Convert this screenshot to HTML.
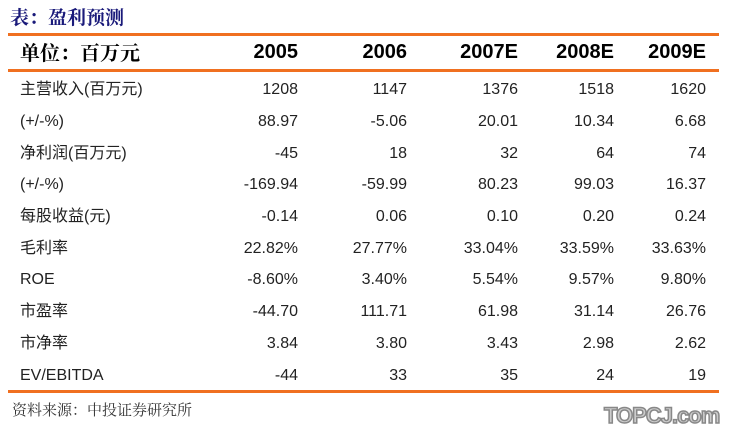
<!DOCTYPE html>
<html><head><meta charset="utf-8"><style>
body{margin:0;width:729px;height:439px;background:#fff;position:relative;overflow:hidden;font-family:"Liberation Sans","Noto Sans CJK SC",sans-serif;}
.t{position:absolute;left:10px;top:3px;font-size:19px;line-height:28px;color:#1a1a7a;font-family:"Noto Serif CJK SC","Noto Sans CJK SC",serif;font-weight:bold;}
.line{position:absolute;left:8px;width:711px;height:3px;background:#f07020;}
.r{position:absolute;left:0;width:729px;height:30px;line-height:30px;font-size:16px;color:#222;}
.r span{position:absolute;top:0;white-space:nowrap;line-height:30px;}
.r .l{left:20px;}
.h{font-size:20px;font-weight:bold;color:#000;}
.c1{right:431px}.c2{right:322px}.c3{right:211px}.c4{right:115px}.c5{right:23px}
.f{position:absolute;left:12px;top:396px;line-height:28px;font-size:15px;color:#333;font-family:"Noto Serif CJK SC",serif;}
.w{position:absolute;left:604px;top:403px;font-size:22px;font-weight:bold;color:#ccc;-webkit-text-stroke:1.5px #888;letter-spacing:-1px;font-family:"Liberation Sans",sans-serif;}
</style></head><body>
<div class="t">表：盈利预测</div>
<div class="line" style="top:33px"></div>
<div class="r h" style="top:37px"><span class="l" style="font-family:'Noto Serif CJK SC',serif">单位：百万元</span><span class="c1">2005</span><span class="c2">2006</span><span class="c3">2007E</span><span class="c4">2008E</span><span class="c5">2009E</span></div>
<div class="line" style="top:69px"></div>
<div class="r" style="top:75px"><span class="l">主营收入(百万元)</span><span class="c1">1208</span><span class="c2">1147</span><span class="c3">1376</span><span class="c4">1518</span><span class="c5">1620</span></div>
<div class="r" style="top:107px"><span class="l">(+/-%)</span><span class="c1">88.97</span><span class="c2">-5.06</span><span class="c3">20.01</span><span class="c4">10.34</span><span class="c5">6.68</span></div>
<div class="r" style="top:139px"><span class="l">净利润(百万元)</span><span class="c1">-45</span><span class="c2">18</span><span class="c3">32</span><span class="c4">64</span><span class="c5">74</span></div>
<div class="r" style="top:170px"><span class="l">(+/-%)</span><span class="c1">-169.94</span><span class="c2">-59.99</span><span class="c3">80.23</span><span class="c4">99.03</span><span class="c5">16.37</span></div>
<div class="r" style="top:202px"><span class="l">每股收益(元)</span><span class="c1">-0.14</span><span class="c2">0.06</span><span class="c3">0.10</span><span class="c4">0.20</span><span class="c5">0.24</span></div>
<div class="r" style="top:234px"><span class="l">毛利率</span><span class="c1">22.82%</span><span class="c2">27.77%</span><span class="c3">33.04%</span><span class="c4">33.59%</span><span class="c5">33.63%</span></div>
<div class="r" style="top:265px"><span class="l">ROE</span><span class="c1">-8.60%</span><span class="c2">3.40%</span><span class="c3">5.54%</span><span class="c4">9.57%</span><span class="c5">9.80%</span></div>
<div class="r" style="top:297px"><span class="l">市盈率</span><span class="c1">-44.70</span><span class="c2">111.71</span><span class="c3">61.98</span><span class="c4">31.14</span><span class="c5">26.76</span></div>
<div class="r" style="top:329px"><span class="l">市净率</span><span class="c1">3.84</span><span class="c2">3.80</span><span class="c3">3.43</span><span class="c4">2.98</span><span class="c5">2.62</span></div>
<div class="r" style="top:361px"><span class="l">EV/EBITDA</span><span class="c1">-44</span><span class="c2">33</span><span class="c3">35</span><span class="c4">24</span><span class="c5">19</span></div>
<div class="line" style="top:390px"></div>
<div class="f">资料来源：中投证券研究所</div>
<div class="w">TOPCJ.com</div>
</body></html>
